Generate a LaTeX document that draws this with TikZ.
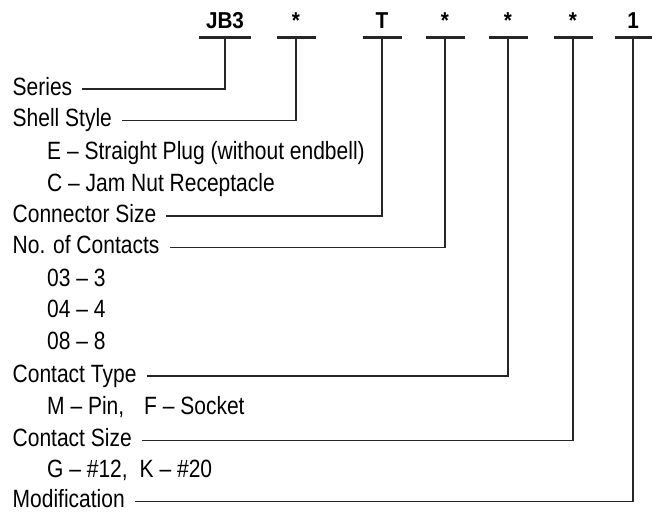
\documentclass[tikz,border=0pt]{standalone}
\usepackage{fontspec}
\setmainfont[FakeStretch=0.84]{Liberation Sans}
\newfontfamily\hdrfont[FakeStretch=0.9]{Liberation Sans}
\usetikzlibrary{calc}
\begin{document}
\begin{tikzpicture}[x=1pt,y=-1pt,
  lbl/.style={anchor=base west,inner sep=0pt,font=\fontsize{25}{29}\selectfont},
  hdr/.style={anchor=base,inner sep=0pt,font=\hdrfont\fontsize{23}{27}\selectfont\bfseries},
  uline/.style={line width=3pt,black!85},
  conn/.style={line width=1.3pt,black!85}]
\useasboundingbox (0,0) rectangle (652,512);
% headers
\foreach \n/\x/\t/\w in {1/225/JB3/26,2/296/*/19.5,3/382/T/19.5,4/445/*/19.5,5/508/*/19.5,6/573/*/19.5,7/633/1/18.5}{
  \node[hdr] (h\n) at (\x,28) {\t};
  \coordinate (t\n) at (\x,37);
  \draw[uline] (\x-\w,37) -- (\x+\w,37);
}
% labels
\node[lbl] (series) at (12.5,95) {Series};
\node[lbl] (shell) at (12.5,126.5) {Shell Style};
\node[lbl] (e) at (47,159) {E – Straight Plug (without endbell)};
\node[lbl] (c) at (47,191) {C – Jam Nut Receptacle};
\node[lbl] (size) at (12.5,222) {Connector Size};
\node[lbl] (noc) at (12.5,253.5) {No. of Contacts};
\node[lbl] (n3) at (47,286) {03 – 3};
\node[lbl] (n4) at (47,317.5) {04 – 4};
\node[lbl] (n8) at (47,349.5) {08 – 8};
\node[lbl] (ctype) at (12.5,382) {Contact Type};
\node[lbl] (mf) at (47,414.5) {M – Pin,\hspace{20pt}F – Socket};
\node[lbl] (csize) at (12.5,446.5) {Contact Size};
\node[lbl] (gk) at (47,477.5) {G – \#12,\hspace{12pt}K – \#20};
\node[lbl] (mod) at (12.5,507.5) {Modification};
% connectors
\foreach \a/\b in {series/t1,shell/t2,size/t3,noc/t4,ctype/t5,csize/t6,mod/t7}{
  \draw[conn] ($(\a.base east)+(10,-6)$) -| (\b);
}
\end{tikzpicture}
\end{document}
